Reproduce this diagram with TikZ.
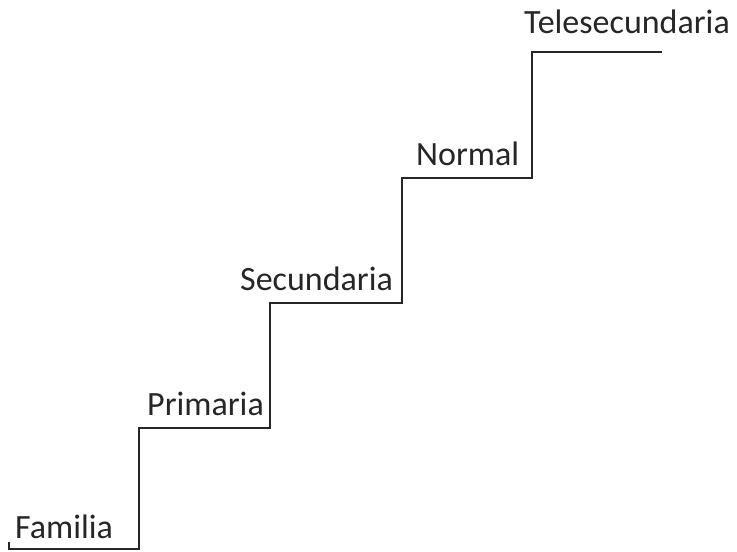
\documentclass[tikz,border=0pt]{standalone}
\usepackage{fontspec}
\setmainfont{Carlito}
\begin{document}
\begin{tikzpicture}[x=1pt,y=-1pt,
  stair/.style={line width=1.6pt,draw=black!85,line join=miter},
  steplabel/.style={anchor=base west,inner sep=0pt,text=black!85,font=\fontsize{34}{38}\selectfont}]
\useasboundingbox (0,0) rectangle (737,552);
% staircase
\draw[stair] (9,542) -- (9,549) -- (139,549) -- (139,428) -- (270,428)
  -- (270,303) -- (402,303) -- (402,178) -- (532,178) -- (532,52) -- (662,52);
% step labels
\node[steplabel] (familia) at (15,538) {Familia};
\node[steplabel] (primaria) at (147,415) {Primaria};
\node[steplabel] (secundaria) at (240,290) {Secundaria};
\node[steplabel] (normal) at (416,165) {Normal};
\node[steplabel] (tele) at (524,33) {Telesecundaria};
\end{tikzpicture}
\end{document}
